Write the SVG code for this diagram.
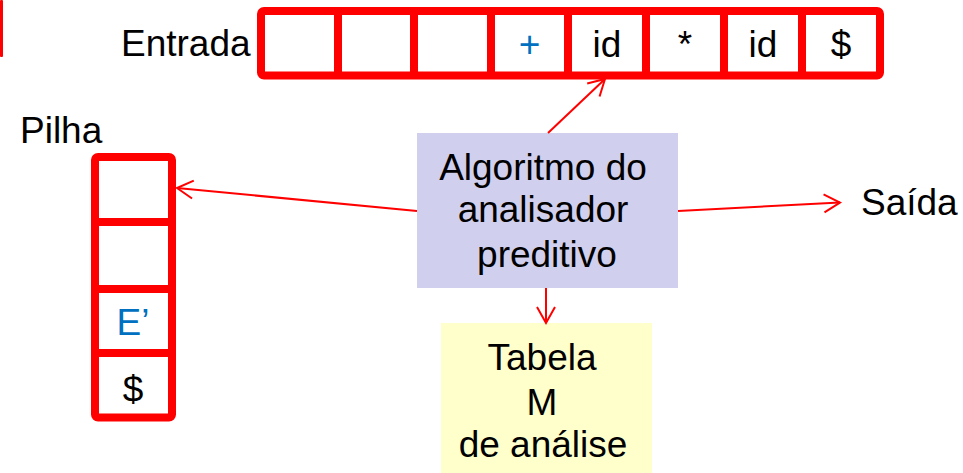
<svg xmlns="http://www.w3.org/2000/svg" width="963" height="473" viewBox="0 0 963 473">
<style>
.t{font-family:"Liberation Sans",Arial,sans-serif;font-size:37px;fill:#000}
.b{fill:#0070C0}
.m{text-anchor:middle}
.cell{fill:none;stroke:#FF0000;stroke-width:8}
.con{stroke:#FF0000;stroke-width:2;fill:none}
</style>
<defs>
<marker id="ah" markerUnits="userSpaceOnUse" markerWidth="24" markerHeight="24" viewBox="-20 -12 24 24" refX="0" refY="0" orient="auto">
<path d="M-16,-9 L0,0 L-16,9" fill="none" stroke="#FF0000" stroke-width="2"/>
</marker>
</defs>
<rect x="0" y="0" width="3" height="57" rx="1" fill="#FF0000"/>
<g id="entrada">
<text class="t" x="121" y="56">Entrada</text>
<rect class="cell" x="261" y="11" width="619" height="64.5" rx="3"/>
<path class="cell" d="M338,11V75.5M414,11V75.5M491,11V75.5M568,11V75.5M646,11V75.5M724,11V75.5M802,11V75.5"/>
<text class="t b m" x="529.5" y="57">+</text>
<text class="t m" x="607" y="57">id</text>
<text class="t m" x="685" y="57">*</text>
<text class="t m" x="763" y="57">id</text>
<text class="t m" x="841" y="57">$</text>
</g>
<g id="pilha">
<text class="t" x="20" y="143">Pilha</text>
<rect class="cell" x="95" y="157" width="77" height="260.5" rx="3"/>
<path class="cell" d="M95,222H172M95,289H172M95,353H172"/>
<text class="t b m" x="133" y="335">E’</text>
<text class="t m" x="133" y="402">$</text>
</g>
<g id="algoritmo">
<rect x="417" y="133" width="261" height="155" fill="#D0D0EE"/>
<text class="t m" x="543" y="180">Algoritmo do</text>
<text class="t m" x="543" y="222">analisador</text>
<text class="t m" x="547" y="267">preditivo</text>
</g>
<g id="tabela">
<rect x="441" y="323" width="211" height="150" fill="#FFFFCC"/>
<text class="t m" x="542" y="370">Tabela</text>
<text class="t m" x="542" y="415">M</text>
<text class="t m" x="543" y="457">de análise</text>
</g>
<g id="saida">
<text class="t" x="861" y="215">Saída</text>
</g>
<g id="connectors">
<line class="con" x1="548" y1="133" x2="605" y2="79" marker-end="url(#ah)"/>
<line class="con" x1="417" y1="211" x2="177" y2="188" marker-end="url(#ah)"/>
<line class="con" x1="678" y1="211" x2="840" y2="202.5" marker-end="url(#ah)"/>
<line class="con" x1="546" y1="288" x2="546" y2="323" marker-end="url(#ah)"/>
</g>
</svg>
